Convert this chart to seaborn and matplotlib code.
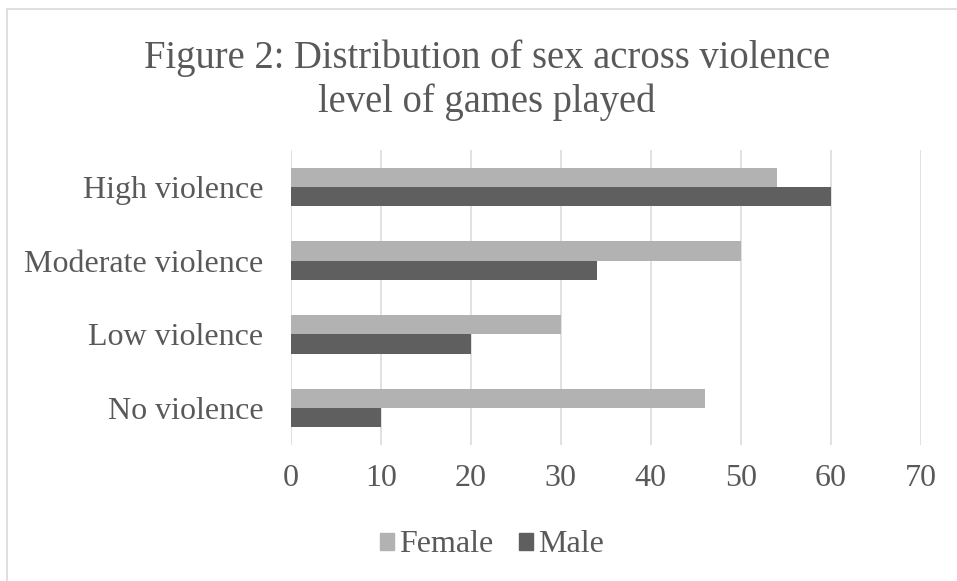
import pandas as pd
import seaborn as sns
import matplotlib.pyplot as plt
from matplotlib.lines import Line2D

# Data
levels = ["High violence", "Moderate violence", "Low violence", "No violence"]
female = [54, 50, 30, 46]
male = [60, 34, 20, 10]
sexes = ["Female", "Male"]
x_ticks = [0, 10, 20, 30, 40, 50, 60, 70]

df = pd.DataFrame({
    "level": levels * 2,
    "count": female + male,
    "sex": ["Female"] * len(levels) + ["Male"] * len(levels),
})

sns.set_style("white")
plt.rcParams["font.family"] = ["Liberation Serif", "DejaVu Serif"]
text_col = "#595959"

fig = plt.figure(figsize=(9.57, 5.81), dpi=100)
ax = fig.add_axes([0.304, 0.234, 0.658, 0.508])

sns.barplot(data=df, x="count", y="level", hue="sex", order=levels,
            hue_order=sexes, palette=["#b2b2b2", "#5f5f5f"],
            orient="h", width=0.52, linewidth=0, ax=ax)

ax.set_xlim(0, 70)
ax.set_xticks(x_ticks)
ax.grid(axis="x", color="#d9d9d9", linewidth=1.1)
ax.set_axisbelow(True)
for s in ax.spines.values():
    s.set_visible(False)
ax.tick_params(axis="both", length=0, labelsize=23, labelcolor=text_col)
ax.tick_params(axis="y", pad=20)
ax.tick_params(axis="x", pad=14)
ax.set_xlabel("")
ax.set_ylabel("")

ax.legend_.remove()
handles = [plt.Rectangle((0, 0), 1, 1, color=c) for c in ["#b2b2b2", "#5f5f5f"]]
fig.legend(handles, sexes, loc="center", bbox_to_anchor=(0.514, 0.062), ncol=2,
           frameon=False, fontsize=23, labelcolor=text_col,
           handlelength=0.45, handleheight=0.45, handletextpad=0.15,
           columnspacing=0.8)

fig.text(0.509, 0.862, "Figure 2: Distribution of sex across violence\nlevel of games played",
         ha="center", va="center", fontsize=27.8, color=text_col, linespacing=1.2)

# light frame (top and left edges visible in the original)
fig.add_artist(Line2D([7 / 957, 1], [1 - 9 / 581] * 2, color="#d9d9d9", lw=1.2))
fig.add_artist(Line2D([7 / 957] * 2, [0, 1 - 9 / 581], color="#d9d9d9", lw=1.2))

fig.savefig("out.png", dpi=100)
